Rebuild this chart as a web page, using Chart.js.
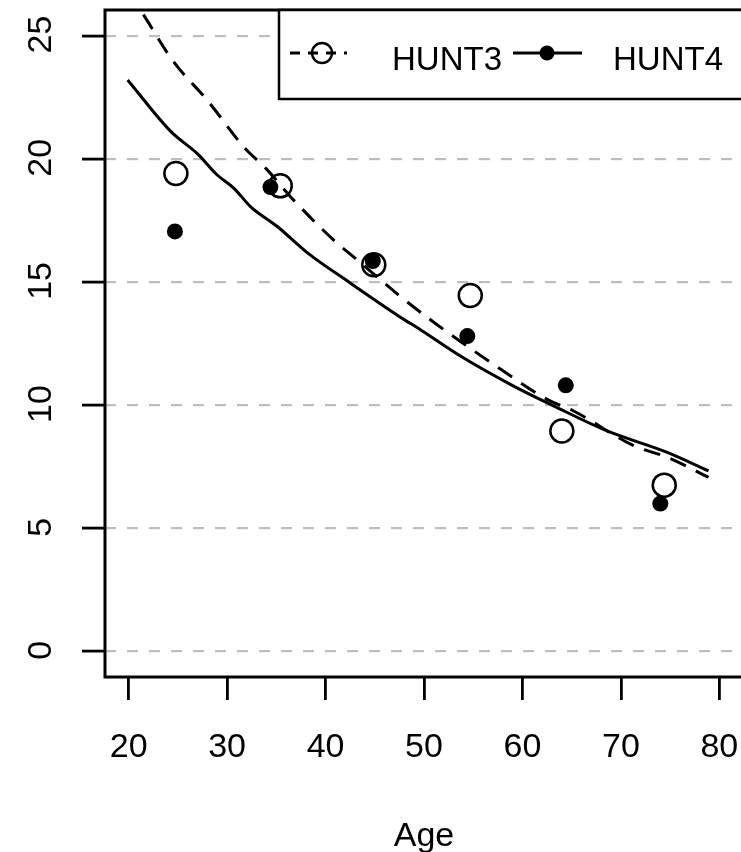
<!DOCTYPE html>
<html><head><meta charset="utf-8">
<script src="https://cdn.jsdelivr.net/npm/chart.js@4.4.1/dist/chart.umd.min.js"></script>
<style>html,body{margin:0;padding:0;overflow:hidden;background:#fff}#wrap{width:770px;height:852px}</style>
</head><body><div id="wrap"><canvas id="c" width="770" height="852"></canvas></div>
<script>
const xTicks = [20, 30, 40, 50, 60, 70, 80];
const yTicks = [0, 5, 10, 15, 20, 25];
const seriesNames = ['HUNT3', 'HUNT4'];
const xAxisTitle = 'Age';

const hunt3Age = [24.8, 35.4, 44.9, 54.7, 64.0, 74.4];
const hunt3Val = [19.4, 18.9, 15.7, 14.45, 8.95, 6.75];
const hunt4Age = [24.7, 34.4, 44.8, 54.4, 64.4, 74.0];
const hunt4Val = [17.05, 18.85, 15.85, 12.8, 10.8, 6.0];

const hunt3FitAge = [21.5, 24.6, 28.0, 31.7, 34.1, 36.6, 40.8, 43.2, 47.6, 51.3, 54.0, 57.8, 62.5, 65.2, 71.3, 74.7, 78.9];
const hunt3FitVal = [25.85, 23.92, 22.37, 20.48, 19.54, 18.39, 16.71, 15.9, 14.41, 13.27, 12.5, 11.45, 10.23, 9.76, 8.35, 7.88, 7.07];
const hunt4FitAge = [19.9, 24.3, 27.0, 29.0, 30.7, 32.4, 35.1, 38.1, 42.5, 47.6, 49.6, 53.7, 59.1, 63.2, 68.6, 74.7, 78.9];
const hunt4FitVal = [23.2, 21.1, 20.2, 19.34, 18.8, 18.05, 17.25, 16.2, 14.96, 13.57, 13.07, 11.99, 10.77, 9.96, 8.95, 8.08, 7.33];

const FONT = '"Liberation Sans", Arial, sans-serif';
const pts = (xs, ys) => xs.map((x, i) => ({x: x, y: ys[i]}));

const rPlugin = {
  id: 'rstyle',
  afterDraw(chart) {
    const ctx = chart.ctx, ca = chart.chartArea, ys = chart.scales.y;
    ctx.save();
    // box
    ctx.strokeStyle = '#000'; ctx.lineWidth = 3; ctx.setLineDash([]);
    ctx.strokeRect(ca.left, ca.top, ca.right - ca.left, ca.bottom - ca.top);
    // y tick labels (rotated, R style)
    ctx.fillStyle = '#000';
    ctx.font = '34px ' + FONT;
    ctx.textAlign = 'center'; ctx.textBaseline = 'middle';
    yTicks.forEach(v => {
      const py = ys.getPixelForValue(v);
      ctx.save(); ctx.translate(41.5, py - 1); ctx.rotate(-Math.PI / 2);
      ctx.fillText(String(v), 0, 0); ctx.restore();
    });
    // legend
    const L = ca.left + 174, T = ca.top, B = ca.top + 89, R = ca.right + 5;
    ctx.fillStyle = '#fff'; ctx.fillRect(L, T, R - L, B - T);
    ctx.lineWidth = 2.5; ctx.strokeStyle = '#000';
    ctx.strokeRect(L, T, R - L, B - T);
    const cy = T + 43;
    // HUNT3 symbol
    ctx.lineWidth = 2.8; ctx.setLineDash([10, 8]);
    ctx.beginPath(); ctx.moveTo(L + 11, cy); ctx.lineTo(L + 68, cy); ctx.stroke();
    ctx.setLineDash([]); ctx.lineWidth = 2.4;
    ctx.beginPath(); ctx.arc(L + 43, cy, 10, 0, Math.PI * 2); ctx.stroke();
    // HUNT4 symbol
    ctx.lineWidth = 2.8;
    ctx.beginPath(); ctx.moveTo(L + 234, cy); ctx.lineTo(L + 303, cy); ctx.stroke();
    ctx.fillStyle = '#000';
    ctx.beginPath(); ctx.arc(L + 268, cy, 7.5, 0, Math.PI * 2); ctx.fill();
    // texts
    ctx.font = '33px ' + FONT; ctx.textAlign = 'left'; ctx.textBaseline = 'alphabetic';
    ctx.fillText(seriesNames[0], L + 113, T + 60);
    ctx.fillText(seriesNames[1], L + 334, T + 60);
    ctx.restore();
  }
};

new Chart(document.getElementById('c'), {
  type: 'scatter',
  data: {
    datasets: [
      {label: seriesNames[1] + ' fit', type: 'line', data: pts(hunt4FitAge, hunt4FitVal), borderColor: '#000', borderWidth: 3, pointRadius: 0, fill: false, cubicInterpolationMode: 'monotone'},
      {label: seriesNames[0] + ' fit', type: 'line', data: pts(hunt3FitAge, hunt3FitVal), borderColor: '#000', borderWidth: 3, borderDash: [17, 11], pointRadius: 0, fill: false, cubicInterpolationMode: 'monotone'},
      {label: seriesNames[0], data: pts(hunt3Age, hunt3Val), pointStyle: 'circle', pointRadius: 11.5, borderWidth: 2.5, borderColor: '#000', backgroundColor: 'rgba(0,0,0,0)'},
      {label: seriesNames[1], data: pts(hunt4Age, hunt4Val), pointStyle: 'circle', pointRadius: 8, borderWidth: 0, backgroundColor: '#000'}
    ]
  },
  options: {
    responsive: false, animation: false, devicePixelRatio: 1,
    layout: {autoPadding: false, padding: {left: 0, top: 10, right: 27, bottom: 0}},
    plugins: {legend: {display: false}, tooltip: {enabled: false}},
    scales: {
      x: {
        type: 'linear', min: 17.6, max: 82.4,
        afterBuildTicks: s => { s.ticks = xTicks.map(v => ({value: v})); },
        afterFit: s => { s.height = 175; },
        grid: {display: true, drawOnChartArea: false, drawTicks: true, tickLength: 23, tickColor: '#000', tickWidth: 2.8, lineWidth: 2.8, tickBorderDash: []},
        border: {display: false},
        ticks: {color: '#000', font: {family: FONT, size: 34}, padding: 27, maxRotation: 0, autoSkip: false},
        title: {display: true, text: xAxisTitle, color: '#000', font: {family: FONT, size: 34, lineHeight: 0.9}, padding: {top: 0, bottom: 0}}
      },
      y: {
        type: 'linear', min: -1.04, max: 26.04,
        afterBuildTicks: s => { s.ticks = yTicks.map(v => ({value: v})); },
        afterFit: s => { s.width = 105; },
        grid: {display: true, drawOnChartArea: true, drawTicks: true, tickLength: 23, color: '#BDBDBD', lineWidth: 2.2, tickColor: '#000', tickWidth: 2.8, tickBorderDash: []},
        border: {display: false, dash: [11, 11]},
        ticks: {display: false}
      }
    }
  },
  plugins: [rPlugin]
});
</script></body></html>
